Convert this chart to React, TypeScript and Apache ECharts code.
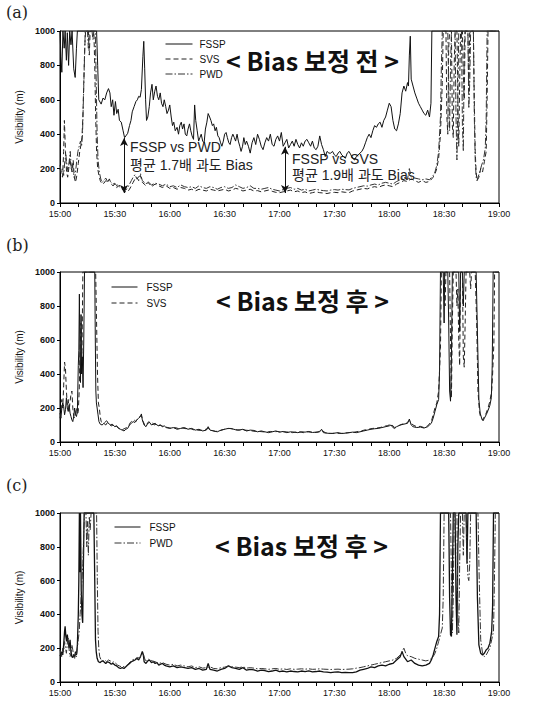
import React, { useEffect, useRef } from "react";
import * as echarts from "echarts";

type P = [number, number];

const timeLabels = ["15:00", "15:30", "16:00", "16:30", "17:00", "17:30", "18:00", "18:30", "19:00"];
const yTicks = [0, 200, 400, 600, 800, 1000];

// Panel (a): before bias correction (minutes after 15:00, visibility m)
const fsspA: P[] = [[0,1000],[0.5,850],[1,760],[1.6,1000],[2.3,900],[2.8,1000],[3.5,830],[4,990],[4.7,800],[5.3,1000],[6,920],[6.6,1000],[7.5,780],[8.3,730],[9,900],[9.5,1000],[20,1000],[20.6,800],[21.2,600],[22.5,575],[23.5,610],[24.5,600],[25.5,640],[26.5,665],[27.3,640],[28,560],[28.8,600],[29.5,510],[30.3,590],[31,520],[31.8,545],[32.5,480],[33.5,470],[34.5,420],[35.3,380],[36,390],[37,405],[38,450],[38.8,480],[39.5,530],[40.5,560],[41.5,590],[42.3,600],[43,620],[43.8,615],[44.5,660],[45.3,850],[45.8,940],[46.3,780],[46.8,600],[47.3,480],[48,500],[48.8,560],[49.5,640],[50.3,690],[51,600],[51.8,650],[52.5,680],[53.3,620],[54,600],[54.8,640],[55.5,580],[56.3,560],[57,600],[57.8,560],[58.5,520],[59.3,540],[60,570],[60.8,500],[61.5,450],[62.2,470],[63,420],[64,440],[64.8,400],[65.5,450],[66.3,470],[67,430],[67.8,460],[68.5,400],[69.3,390],[70,430],[70.8,460],[71.5,420],[72.2,390],[73,370],[73.6,570],[74.2,480],[75,420],[75.8,360],[76.5,380],[77.2,400],[78,360],[78.8,350],[79.5,430],[80.3,470],[81,520],[81.8,500],[82.5,480],[83.3,450],[84,460],[84.8,420],[85.5,440],[86.3,390],[87,380],[87.8,350],[88.5,330],[89.3,360],[90,400],[90.8,410],[91.5,380],[92.3,350],[93,340],[93.8,380],[94.5,400],[95.3,380],[96,360],[96.8,400],[97.5,360],[98.3,330],[99,300],[99.8,330],[100.5,380],[101.3,340],[102,360],[103,330],[104,290],[105,350],[106,380],[107,340],[108,400],[109,370],[110,330],[111,310],[112,350],[113,380],[114,360],[115,400],[116,340],[117,330],[118,370],[119,390],[120,360],[121,410],[122,330],[123,350],[124,370],[125,320],[126,340],[127,360],[128,330],[129,370],[130,340],[131,320],[132,350],[133,330],[134,360],[135,370],[136,350],[137,330],[138,360],[139,320],[140,310],[141,330],[142,390],[143,340],[144,310],[145,270],[146,300],[147,290],[148,290],[149,300],[150,280],[151,270],[152,290],[153,300],[154,280],[155,270],[156,260],[157,290],[158,300],[159,280],[160,260],[161,250],[162,270],[163,280],[164,290],[165,300],[166,320],[167,350],[168,380],[169,400],[170,380],[171,420],[172,450],[173,440],[174,460],[175,470],[176,440],[177,480],[178,500],[179,540],[180,580],[181,560],[182,480],[183,430],[184,420],[185,460],[186,520],[187,640],[188,680],[189,650],[190,700],[190.5,680],[191,860],[191.5,970],[192,720],[193,680],[194,640],[195,610],[196,580],[197,560],[198,540],[199,520],[200,510],[201,540],[202,500],[202.8,580],[203.3,1000],[240,1000]];

const svsA: P[] = [[0,200],[0.7,170],[1.4,150],[2,300],[2.4,480],[3,300],[3.6,180],[4.2,150],[4.8,200],[5.4,260],[6,210],[6.6,180],[7.2,250],[7.8,150],[8.5,120],[9.2,160],[10,230],[10.8,300],[11.5,340],[12,380],[12.5,500],[13,700],[13.5,900],[14,1000],[15.5,1000],[16,860],[16.5,1000],[18.5,1000],[19,800],[19.5,500],[20,300],[20.6,200],[21.3,160],[22,130],[23,110],[24,115],[25,130],[26,120],[27,140],[28,110],[29,100],[30,110],[31,90],[32,100],[33,85],[34,80],[35,70],[36,65],[37,65],[38,80],[39,100],[40,120],[41,140],[42,150],[43,130],[44,160],[45,120],[46,110],[47,100],[48,120],[49,110],[50,95],[52,110],[54,100],[56,90],[58,100],[60,85],[62,90],[64,80],[66,90],[68,85],[70,75],[72,80],[74,70],[76,80],[78,75],[80,70],[82,80],[84,75],[86,70],[88,75],[90,80],[92,70],[94,75],[96,85],[98,80],[100,70],[102,75],[104,80],[106,70],[108,72],[110,65],[112,70],[114,75],[116,68],[118,62],[120,60],[122,65],[124,70],[126,75],[128,65],[130,70],[132,60],[134,65],[136,55],[138,60],[140,65],[142,60],[144,58],[146,55],[148,60],[150,62],[152,60],[154,65],[156,62],[158,60],[160,70],[162,75],[164,80],[166,85],[168,82],[170,90],[172,95],[174,90],[176,100],[178,105],[180,100],[182,95],[184,110],[186,120],[188,130],[190,125],[192,140],[194,130],[196,120],[198,130],[200,120],[202,125],[204,150],[205,170],[206,200],[207,260],[208,400],[209,700],[209.5,1000],[211,1000],[211.5,500],[212,400],[212.5,900],[213,1000],[214,1000],[214.5,450],[215,380],[215.5,800],[216,1000],[217,1000],[217.5,600],[218,330],[218.5,700],[219,1000],[220,1000],[220.5,750],[221,600],[221.5,1000],[223,1000],[223.5,650],[224,1000],[226,1000],[226.5,600],[227,300],[227.5,180],[228,130],[229,150],[230,200],[231,180],[232,240],[233,300],[233.5,600],[234,1000],[240,1000]];

const pwdA: P[] = [[0,220],[0.7,180],[1.4,200],[2,160],[2.6,240],[3.2,280],[3.8,220],[4.4,180],[5,240],[5.6,300],[6.2,200],[6.8,230],[7.4,170],[8,140],[8.6,190],[9.2,250],[9.8,300],[10.5,330],[11.2,360],[11.8,330],[12.3,400],[12.8,600],[13.3,800],[13.8,1000],[15,1000],[15.5,900],[16,1000],[17.5,1000],[18,950],[18.5,1000],[19.3,1000],[19.8,700],[20.3,400],[20.8,250],[21.5,180],[22.3,140],[23,120],[24,130],[25,145],[26,125],[27,130],[28,120],[29,110],[30,115],[31,100],[32,110],[33,95],[34,85],[35,80],[36,75],[37,90],[38,110],[39,130],[40,150],[41,165],[42,140],[43,150],[44,170],[45,130],[46,120],[47,110],[48,125],[50,105],[52,115],[54,110],[56,100],[58,110],[60,95],[62,100],[64,90],[66,105],[68,95],[70,90],[72,95],[74,85],[76,100],[78,90],[80,85],[82,95],[84,90],[86,80],[88,90],[90,95],[92,85],[94,90],[96,105],[98,95],[100,85],[102,90],[104,100],[106,85],[108,85],[110,80],[112,85],[114,90],[116,80],[118,75],[120,70],[122,78],[124,85],[126,90],[128,80],[130,85],[132,75],[134,80],[136,70],[138,75],[140,80],[142,75],[144,72],[146,70],[148,75],[150,78],[152,75],[154,80],[156,78],[158,76],[160,85],[162,90],[164,95],[166,100],[168,98],[170,105],[172,110],[174,105],[176,115],[178,120],[180,115],[182,110],[184,125],[186,135],[188,150],[190,140],[191,200],[192,150],[194,145],[196,140],[198,135],[200,140],[202,135],[204,160],[205,180],[206,220],[207,300],[208,500],[208.5,800],[209,1000],[212,1000],[212.5,650],[213,420],[213.5,800],[214,1000],[216,1000],[216.5,500],[217,250],[217.5,600],[218,1000],[219.5,1000],[220,450],[220.5,300],[221,900],[221.5,1000],[223,1000],[223.5,550],[224,700],[224.5,1000],[226,1000],[226.5,500],[227,250],[227.5,150],[228,130],[228.5,150],[229.5,180],[230.5,220],[231.5,250],[232.5,320],[233,500],[233.5,1000],[240,1000]];

// Panel (b): after correction, FSSP vs SVS
const fsspB: P[] = [[0,170],[0.5,140],[1,200],[1.5,230],[2,210],[2.5,160],[3,190],[3.5,260],[4,200],[4.5,180],[5,220],[5.5,170],[6,150],[6.5,130],[7,120],[7.5,150],[8,200],[8.5,160],[9,150],[9.5,180],[10,450],[10.3,540],[10.6,870],[10.9,500],[11.2,350],[11.5,750],[11.8,400],[12.2,500],[12.6,320],[13,600],[13.4,1000],[19,1000],[19.3,600],[19.6,300],[19.9,230],[20.3,200],[20.8,160],[21.3,120],[22,105],[23,100],[24,110],[25,100],[26,115],[27,105],[28,95],[29,100],[30,90],[31,95],[32,80],[33,75],[34,70],[35,65],[36,75],[37,80],[38,100],[39,110],[40,120],[41,115],[42,130],[43,140],[44,150],[44.5,165],[45,130],[46,100],[47,90],[48,110],[49,115],[50,100],[51,105],[52,110],[53,100],[54,95],[55,100],[56,90],[57,95],[58,85],[60,80],[62,85],[64,75],[66,80],[68,85],[70,75],[72,80],[74,70],[76,75],[78,65],[80,70],[81,90],[82,70],[84,65],[86,60],[88,70],[90,75],[92,80],[94,78],[96,72],[98,70],[100,75],[102,65],[104,70],[106,68],[108,60],[110,65],[112,60],[114,55],[116,60],[118,65],[120,58],[122,62],[124,55],[126,60],[128,58],[130,55],[132,60],[134,58],[136,62],[138,56],[140,58],[142,60],[143,75],[144,55],[146,52],[148,50],[150,52],[152,55],[154,50],[156,52],[158,55],[160,58],[162,55],[164,60],[166,65],[168,70],[170,75],[172,78],[174,80],[176,85],[178,90],[180,95],[181,100],[182,85],[183,80],[184,90],[186,100],[188,105],[190,110],[191,135],[192,100],[193,90],[195,85],[197,88],[199,82],[201,90],[202,100],[203,110],[204,140],[205,180],[206,220],[207,250],[207.5,420],[208,1000],[209.5,1000],[210,700],[210.3,1000],[212,1000],[212.5,700],[213,300],[213.5,240],[214,500],[214.5,1000],[218,1000],[218.5,650],[219,1000],[220,1000],[220.5,800],[221,1000],[227.5,1000],[228.3,600],[229,250],[229.7,170],[230.5,140],[231.3,125],[232,140],[233,160],[234,185],[235,215],[235.8,260],[236.3,450],[236.8,1000],[240,1000]];

const svsB: P[] = [[0,140],[0.5,180],[1,250],[1.5,200],[2,330],[2.5,470],[3,430],[3.5,300],[4,220],[4.5,250],[5,180],[5.5,240],[6,280],[6.5,300],[7,200],[7.5,150],[8,140],[8.5,170],[9,200],[9.5,160],[10,180],[10.5,300],[11,550],[11.5,700],[12,500],[12.5,1000],[19.5,1000],[20,700],[20.5,400],[21,230],[21.5,200],[22,150],[22.5,120],[23.5,110],[24.5,115],[25.5,125],[26.5,110],[27.5,100],[28.5,105],[29.5,95],[30.5,100],[31.5,85],[32.5,80],[33.5,70],[34.5,75],[35.5,80],[36.5,85],[37.5,95],[38.5,115],[39.5,125],[40.5,130],[41.5,120],[42.5,140],[43.5,150],[44.5,155],[45.5,120],[46.5,95],[47.5,105],[48.5,120],[49.5,110],[50.5,115],[51.5,100],[52.5,105],[53.5,95],[54.5,100],[55.5,95],[57,90],[59,85],[61,80],[63,85],[65,78],[67,82],[69,78],[71,80],[73,72],[75,70],[77,68],[79,72],[81,80],[83,68],[85,62],[87,65],[89,72],[91,78],[93,80],[95,75],[97,70],[99,72],[101,70],[103,68],[105,65],[107,62],[109,62],[111,60],[113,58],[115,62],[117,60],[119,62],[121,58],[123,60],[125,58],[127,55],[129,58],[131,60],[133,55],[135,60],[137,58],[139,55],[141,58],[143,70],[145,55],[147,52],[149,50],[151,52],[153,50],[155,52],[157,54],[159,56],[161,58],[163,62],[165,66],[167,72],[169,76],[171,80],[173,82],[175,85],[177,92],[179,96],[181,105],[183,85],[185,95],[187,105],[189,108],[191,125],[193,100],[195,90],[197,92],[199,85],[201,95],[203,120],[204,160],[205,200],[206,230],[207,300],[208,550],[208.5,1000],[210,1000],[210.5,800],[211,1000],[213,1000],[213.5,600],[214,260],[214.5,700],[215,1000],[216.5,1000],[217,800],[217.5,900],[218,600],[218.5,450],[219,1000],[220,1000],[220.5,500],[221,440],[221.5,700],[222,1000],[224,1000],[224.5,900],[225,1000],[227,1000],[227.8,700],[228.5,300],[229.3,180],[230,140],[231,130],[232,150],[233,170],[234,200],[235,240],[236,300],[236.5,400],[237.2,580],[237.6,1000],[240,1000]];

// Panel (c): after correction, FSSP vs PWD
const fsspC: P[] = [[0,160],[0.5,150],[1,180],[1.5,160],[2,220],[2.5,300],[2.8,330],[3.2,270],[3.6,240],[4,280],[4.5,230],[5,200],[5.5,250],[6,180],[6.5,150],[7,145],[7.5,160],[8,150],[8.5,180],[9,160],[9.5,220],[10,400],[10.3,600],[10.6,1000],[10.9,650],[11.2,1000],[11.6,550],[12,400],[12.4,350],[12.8,700],[13.2,1000],[18.5,1000],[19,600],[19.4,250],[19.8,180],[20.3,140],[21,120],[22,115],[23,125],[24,120],[25,110],[26,120],[27,115],[28,105],[29,110],[30,100],[31,95],[32,85],[33,80],[34,85],[35,80],[36,90],[37,100],[38,110],[39,120],[40,125],[41,130],[42,140],[43,130],[44,150],[45,180],[45.5,165],[46,120],[47,110],[48,125],[49,130],[50,115],[51,120],[52,110],[53,115],[54,100],[55,105],[56,110],[57,100],[58,95],[60,90],[62,95],[64,85],[66,90],[68,85],[70,80],[72,85],[74,75],[76,80],[78,70],[80,75],[81,110],[82,75],[84,70],[86,65],[88,75],[90,80],[92,95],[94,85],[96,80],[98,75],[100,85],[102,70],[104,75],[106,72],[108,65],[110,70],[112,68],[114,62],[116,65],[118,70],[120,62],[122,65],[124,60],[126,65],[128,62],[130,60],[132,65],[134,62],[136,66],[138,60],[140,62],[142,65],[144,60],[146,58],[148,55],[150,58],[152,60],[154,55],[156,57],[158,55],[160,56],[162,60],[164,70],[166,75],[168,80],[170,90],[172,85],[174,95],[176,100],[178,95],[180,105],[182,110],[184,130],[186,150],[187,180],[188,150],[190,120],[192,130],[194,110],[196,100],[198,95],[200,100],[202,110],[203,130],[204,160],[205,200],[206,240],[207,270],[207.5,400],[208,1000],[212.5,1000],[213,500],[213.5,280],[214,270],[214.5,600],[215,1000],[216,1000],[216.5,500],[217,280],[217.5,800],[218,1000],[222,1000],[222.5,700],[223,1000],[227.5,1000],[228.2,500],[229,220],[230,170],[231,160],[232,170],[233,190],[234,200],[235,230],[236,300],[236.5,450],[237,1000],[240,1000]];

const pwdC: P[] = [[0,190],[0.5,170],[1,150],[1.5,200],[2,180],[2.5,240],[3,200],[3.5,170],[4,230],[4.5,260],[5,190],[5.5,150],[6,170],[6.5,220],[7,190],[7.5,150],[8,140],[8.5,170],[9,150],[9.5,200],[10,250],[10.5,300],[11,400],[11.5,500],[12,600],[12.5,700],[13,900],[13.5,1000],[14.2,1000],[14.6,800],[15,950],[15.5,750],[16,980],[16.5,900],[17,1000],[20,1000],[20.4,600],[20.8,300],[21.2,200],[21.7,150],[22.5,130],[23.5,125],[24.5,130],[25.5,120],[26.5,130],[27.5,125],[28.5,115],[29.5,120],[30.5,110],[31.5,100],[32.5,95],[33.5,90],[34.5,92],[35.5,88],[36.5,95],[37.5,110],[38.5,120],[39.5,130],[40.5,135],[41.5,140],[42.5,145],[43.5,140],[44.5,160],[45.5,170],[46.5,130],[47.5,125],[48.5,135],[49.5,130],[50.5,125],[52,120],[54,110],[56,115],[58,105],[60,100],[62,105],[64,95],[66,100],[68,95],[70,90],[72,95],[74,85],[76,90],[78,82],[80,85],[82,90],[84,80],[86,78],[88,85],[90,88],[92,95],[94,90],[96,88],[98,85],[100,90],[102,82],[104,85],[106,82],[108,78],[110,80],[112,78],[114,75],[116,78],[118,80],[120,75],[122,78],[124,74],[126,78],[128,75],[130,76],[132,78],[134,76],[136,78],[138,75],[140,76],[142,78],[144,76],[146,75],[148,74],[150,75],[152,76],[154,74],[156,75],[158,76],[160,78],[162,82],[164,85],[166,90],[168,95],[170,100],[172,105],[174,110],[176,115],[178,120],[180,125],[182,130],[184,140],[186,160],[188,200],[189,170],[190,155],[192,150],[194,140],[196,135],[198,130],[200,125],[202,130],[204,150],[205,170],[206,200],[207,240],[208,280],[209,320],[209.5,500],[210,1000],[213.5,1000],[214,600],[214.5,290],[215,500],[215.5,1000],[217,1000],[217.5,400],[218,290],[218.5,700],[219,1000],[220,1000],[220.5,750],[221,1000],[222,1000],[222.5,800],[223,620],[223.5,600],[224,700],[224.5,1000],[228.5,1000],[229.2,600],[230,250],[231,170],[232,150],[233,160],[234,180],[235,200],[236,250],[237,300],[237.5,600],[238,1000],[240,1000]];

// bias arrows in panel (a): [minute, top value, bottom value]
const arrowPWD: [number, number, number] = [35, 378, 58];
const arrowSVS: [number, number, number] = [123, 327, 58];

const panelTitles = ["< Bias 보정 전 >", "< Bias 보정 후 >", "< Bias 보정 후 >"];
const panelTags = ["(a)", "(b)", "(c)"];

const SANS = "'Liberation Sans', Arial, 'Noto Sans CJK KR', sans-serif";
const KR = "'Noto Sans CJK KR', 'Liberation Sans', sans-serif";

const grids = [
  { top: 31, height: 172 },
  { top: 272, height: 170 },
  { top: 513, height: 169 },
];

const DASH_SVS = [5, 3];
const DASH_PWD = [7, 2, 1.5, 2];

export default function App() {
  const ref = useRef<HTMLDivElement>(null);
  useEffect(() => {
    if (!ref.current) return;
    const chart = echarts.init(ref.current, undefined, { renderer: "svg" });

    const mk = (name: string, data: P[], gi: number, dash: any, width: number, color: string, extra: any = {}) => ({
      name,
      type: "line",
      xAxisIndex: gi,
      yAxisIndex: gi,
      data,
      symbol: "none",
      showSymbol: false,
      clip: true,
      silent: true,
      lineStyle: { color, width, type: dash },
      itemStyle: { color },
      ...extra,
    });

    const arrowLine = (a: [number, number, number]) => [
      { coord: [a[0], a[1]] },
      { coord: [a[0], a[2]] },
    ];

    const legendBase = {
      orient: "vertical",
      itemWidth: 26,
      itemHeight: 10,
      selectedMode: false,
      itemStyle: { opacity: 0 },
      lineStyle: { width: 1 },
    };

    const option: any = {
      animation: false,
      backgroundColor: "#fff",
      grid: grids.map((g) => ({
        left: 60,
        right: 41,
        top: g.top,
        height: g.height,
        show: true,
        borderColor: "#000",
        borderWidth: 1,
        backgroundColor: "transparent",
      })),
      xAxis: grids.map((_, i) => ({
        type: "value",
        gridIndex: i,
        min: 0,
        max: 240,
        interval: 30,
        axisLine: { show: true, lineStyle: { color: "#000", width: 1 } },
        axisTick: { show: true, length: 4, lineStyle: { color: "#000" } },
        minorTick: { show: true, splitNumber: 3, length: 4, lineStyle: { color: "#000" } },
        splitLine: { show: false },
        axisLabel: {
          margin: 6,
          fontSize: 9,
          fontFamily: SANS,
          color: "#111",
          formatter: (v: number) => timeLabels[Math.round(v / 30)] ?? "",
        },
      })),
      yAxis: grids.map((_, i) => ({
        type: "value",
        gridIndex: i,
        min: yTicks[0],
        max: yTicks[yTicks.length - 1],
        interval: 200,
        name: "Visibility (m)",
        nameLocation: "middle",
        nameGap: 31,
        nameRotate: 90,
        nameTextStyle: { fontSize: 10, fontFamily: SANS, color: "#111" },
        axisLine: { show: true, lineStyle: { color: "#000", width: 1 } },
        axisTick: { show: true, length: 3, lineStyle: { color: "#000" } },
        splitLine: { show: false },
        axisLabel: {
          margin: 5,
          fontSize: 9,
          fontWeight: "bold",
          fontFamily: SANS,
          color: "#111",
          formatter: (v: number) => String(v),
        },
      })),
      legend: [
        {
          ...legendBase,
          data: ["FSSP", "SVS", "PWD"],
          left: 160,
          top: 34,
          itemWidth: 27,
          itemGap: 5,
          textStyle: { fontSize: 10, fontFamily: SANS, color: "#111", padding: [0, 0, 0, 2] },
        },
        {
          ...legendBase,
          data: ["FSSP", "SVS"],
          left: 106,
          top: 277,
          itemGap: 6,
          textStyle: { fontSize: 10, fontFamily: SANS, color: "#111", padding: [0, 0, 0, 4] },
        },
        {
          ...legendBase,
          data: ["FSSP", "PWD"],
          left: 109,
          top: 517,
          itemGap: 6,
          textStyle: { fontSize: 10, fontFamily: SANS, color: "#111", padding: [0, 0, 0, 4] },
        },
      ],
      series: [
        mk("FSSP", fsspA, 0, "solid", 1, "#111", {
          markLine: {
            silent: true,
            symbol: ["arrow", "arrow"],
            symbolSize: [6, 8],
            label: { show: false },
            lineStyle: { color: "#111", width: 1, type: "solid" },
            data: [arrowLine(arrowPWD), arrowLine(arrowSVS)],
          },
        }),
        mk("SVS", svsA, 0, DASH_SVS, 1, "#222"),
        mk("PWD", pwdA, 0, DASH_PWD, 1, "#333"),
        mk("FSSP", fsspB, 1, "solid", 1, "#111"),
        mk("SVS", svsB, 1, DASH_SVS, 1, "#222"),
        mk("FSSP", fsspC, 2, "solid", 1.3, "#111"),
        mk("PWD", pwdC, 2, DASH_PWD, 1, "#333"),
      ],
      graphic: [
        ...panelTags.map((t, i) => ({
          type: "text",
          left: 6,
          top: [4, 237, 477][i],
          style: { text: t, font: "16px 'DejaVu Serif', 'Liberation Serif', serif", fill: "#222" },
        })),
        ...panelTitles.map((t, i) => ({
          type: "text",
          left: [226, 216, 215][i],
          top: [47, 287, 532][i],
          style: { text: t, font: `bold 25px ${KR}`, fill: "#111" },
        })),
        { type: "text", left: 130, top: 140, style: { text: "FSSP vs PWD", font: `14px ${SANS}`, fill: "#222" } },
        { type: "text", left: 130, top: 158, style: { text: "평균 1.7배 과도 Bias", font: `14px ${SANS}`, fill: "#222" } },
        { type: "text", left: 292, top: 152, style: { text: "FSSP vs SVS", font: `14px ${SANS}`, fill: "#222" } },
        { type: "text", left: 292, top: 168, style: { text: "평균 1.9배 과도 Bias", font: `14px ${SANS}`, fill: "#222" } },
      ],
    };

    chart.setOption(option);
    return () => chart.dispose();
  }, []);

  return (
    <div
      ref={ref}
      style={{ position: "fixed", left: 0, top: 0, width: 540, height: 707, background: "#fff" }}
    />
  );
}
